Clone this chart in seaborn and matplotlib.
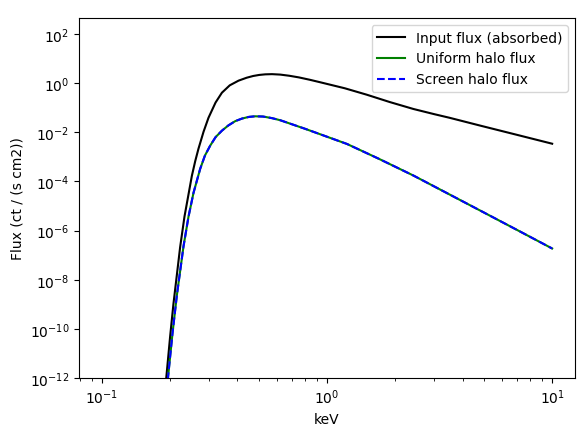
import numpy as np
import matplotlib
matplotlib.use("Agg")
import matplotlib.pyplot as plt
import seaborn as sns

# energies (keV) and log10 flux values
input_energy = [0.1, 0.15, 0.185, 0.1931, 0.2012, 0.208, 0.2228, 0.2329,
                0.2512, 0.26, 0.2687, 0.283, 0.2977, 0.32, 0.3415, 0.37,
                0.4047, 0.44, 0.47, 0.50, 0.532, 0.57, 0.62, 0.68, 0.75,
                0.84, 0.934, 1.2, 1.5, 1.9, 2.419, 3.0, 3.5, 4.8, 7.0, 10.0]
input_logflux = [-50, -25, -14.05, -12.04, -10.29, -8.99, -6.67, -5.43,
                 -3.77, -3.17, -2.67, -1.98, -1.41, -0.79, -0.39, -0.09,
                 0.10, 0.22, 0.29, 0.333, 0.357, 0.365, 0.347, 0.30, 0.233,
                 0.135, 0.034, -0.21, -0.47, -0.77, -1.052, -1.265, -1.41,
                 -1.731, -2.108, -2.466]

halo_energy = [0.1, 0.15, 0.19, 0.1965, 0.206, 0.2154, 0.2305, 0.2426,
               0.2554, 0.2734, 0.287, 0.3029, 0.32, 0.3415, 0.365, 0.3912,
               0.42, 0.45, 0.48, 0.52, 0.57, 0.62, 0.8, 1.227, 1.7, 2.426,
               3.4, 4.8, 7.0, 10.0]
uniform_logflux = [-50, -25, -13.46, -12.04, -10.19, -8.64, -6.65, -5.44,
                   -4.465, -3.49, -2.95, -2.545, -2.2, -1.935, -1.72, -1.548,
                   -1.44, -1.375, -1.35, -1.36, -1.425, -1.51, -1.86, -2.476,
                   -3.08, -3.766, -4.47, -5.19, -5.98, -6.73]
screen_logflux = [-50, -25, -13.46, -12.04, -10.19, -8.64, -6.65, -5.44,
                  -4.465, -3.49, -2.95, -2.545, -2.2, -1.935, -1.72, -1.548,
                  -1.44, -1.375, -1.35, -1.36, -1.425, -1.51, -1.86, -2.476,
                  -3.08, -3.766, -4.47, -5.19, -5.98, -6.73]

input_flux = 10.0 ** np.array(input_logflux)
uniform_flux = 10.0 ** np.array(uniform_logflux)
screen_flux = 10.0 ** np.array(screen_logflux)

fig = plt.figure(figsize=(5.84, 4.35), dpi=100)
ax = fig.add_axes([79 / 584, 56 / 435, 496 / 584, 360 / 435])

sns.lineplot(x=input_energy, y=input_flux, color='k', ax=ax,
             label='Input flux (absorbed)')
sns.lineplot(x=halo_energy, y=uniform_flux, color='g', ax=ax,
             label='Uniform halo flux')
sns.lineplot(x=halo_energy, y=screen_flux, color='b', linestyle='--', ax=ax,
             label='Screen halo flux')

ax.set_xscale('log')
ax.set_yscale('log')
ax.set_xlim(0.0792, 12.63)
ax.set_ylim(1e-12, 10 ** 2.65)
ax.set_xlabel('keV')
ax.set_ylabel('Flux (ct / (s cm2))')
ax.legend(loc='upper right')

fig.savefig('out.png', dpi=100)
